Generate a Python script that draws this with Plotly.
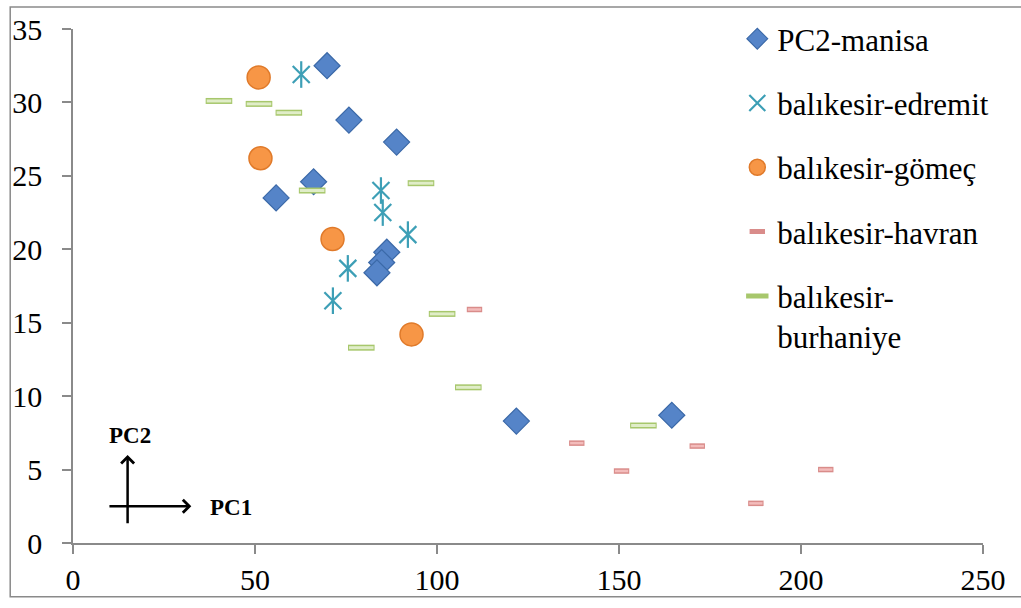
import plotly.graph_objects as go

# ---- data ----
manisa_x = [69.8, 75.8, 88.9, 66.1, 55.8, 86.2, 84.8, 83.5, 121.8, 164.5]
manisa_y = [32.5, 28.8, 27.3, 24.6, 23.5, 19.8, 19.1, 18.4, 8.3, 8.7]

edremit_x = [62.7, 84.6, 85.1, 92.0, 75.5, 71.4]
edremit_y = [31.9, 24.0, 22.5, 21.0, 18.7, 16.5]

gomec_x = [51.0, 51.5, 71.3, 93.0]
gomec_y = [31.7, 26.2, 20.7, 14.2]

havran_x = [110.3, 138.4, 150.7, 171.5, 187.6, 206.8]
havran_y = [15.9, 6.8, 4.9, 6.6, 2.7, 5.0]

burhaniye_x = [40.1, 51.1, 59.3, 65.7, 95.6, 101.4, 79.2, 108.6, 156.7]
burhaniye_y = [30.1, 29.9, 29.3, 24.0, 24.5, 15.6, 13.3, 10.6, 8.0]

x_ticks = [0, 50, 100, 150, 200, 250]
y_ticks = [0, 5, 10, 15, 20, 25, 30, 35]

FONT = "Liberation Serif"

fig = go.Figure()

fig.add_trace(go.Scatter(
    x=manisa_x, y=manisa_y, mode="markers", name="PC2-manisa", legendgroup="a",
    marker=dict(symbol="diamond", size=20, color="#5584c8",
                line=dict(color="#3b69a8", width=1.2))))

fig.add_trace(go.Scatter(
    x=edremit_x, y=edremit_y, mode="markers", name="balıkesir-edremit", legendgroup="b",
    marker=dict(symbol="x-thin-open", size=17, color="#3d9fb6",
                line=dict(color="#3d9fb6", width=2.2))))
fig.add_trace(go.Scatter(
    x=edremit_x, y=edremit_y, mode="markers", showlegend=False, legendgroup="b",
    marker=dict(symbol="line-ns-open", size=19, color="#3d9fb6",
                line=dict(color="#3d9fb6", width=2.2))))

fig.add_trace(go.Scatter(
    x=gomec_x, y=gomec_y, mode="markers", name="balıkesir-gömeç", legendgroup="c",
    marker=dict(symbol="circle", size=23, color="#f79646",
                line=dict(color="#e07a2a", width=1.5))))

fig.add_trace(go.Scatter(
    x=havran_x, y=havran_y, mode="markers", name="balıkesir-havran", legendgroup="d",
    marker=dict(symbol="line-ew-open", size=11, color="#d98c8a",
                line=dict(color="#d98c8a", width=5.5))))
fig.add_trace(go.Scatter(
    x=havran_x, y=havran_y, mode="markers", showlegend=False, legendgroup="d",
    marker=dict(symbol="line-ew-open", size=9.5, color="#f3bcbb",
                line=dict(color="#f3bcbb", width=2.5))))

fig.add_trace(go.Scatter(
    x=burhaniye_x, y=burhaniye_y, mode="markers", name="balıkesir-<br>burhaniye", legendgroup="e",
    marker=dict(symbol="line-ew-open", size=19, color="#a7c76c",
                line=dict(color="#a7c76c", width=6))))
fig.add_trace(go.Scatter(
    x=burhaniye_x, y=burhaniye_y, mode="markers", showlegend=False, legendgroup="e",
    marker=dict(symbol="line-ew-open", size=17.5, color="#e0edc8",
                line=dict(color="#e0edc8", width=3))))

axis_common = dict(showline=True, linecolor="#8a8a8a", linewidth=1.5,
                   ticks="outside", ticklen=9, tickcolor="#8a8a8a", tickwidth=1.5,
                   showgrid=False, zeroline=False,
                   tickfont=dict(family=FONT, size=30, color="#000"))

fig.update_xaxes(range=[0, 250], tickvals=x_ticks, ticktext=[str(v) for v in x_ticks],
                 **axis_common)
fig.update_yaxes(range=[0, 35], tickvals=y_ticks, ticktext=[str(v) for v in y_ticks],
                 ticklabelstandoff=14, **axis_common)

# PC1 / PC2 direction arrows
arrow = dict(showarrow=True, arrowhead=4, arrowsize=1, arrowwidth=2.5, arrowcolor="#000",
             xref="x", yref="y", axref="x", ayref="y", text="")
fig.add_annotation(x=15.0, y=6.0, ax=15.0, ay=1.25, **arrow)
fig.add_annotation(x=32.5, y=2.5, ax=9.6, ay=2.5, **arrow)
fig.add_annotation(x=15.7, y=7.35, text="<b>PC2</b>", showarrow=False, xref="x", yref="y",
                   font=dict(family=FONT, size=23, color="#000"))
fig.add_annotation(x=43.5, y=2.45, text="<b>PC1</b>", showarrow=False, xref="x", yref="y",
                   font=dict(family=FONT, size=23, color="#000"))

# outer frame
fig.add_shape(type="rect", xref="paper", yref="paper",
              x0=-0.069, x1=1.05, y0=-0.1045, y1=1.043,
              line=dict(color="#8a8a8a", width=1.5), fillcolor="rgba(0,0,0,0)", layer="below")

fig.update_layout(
    width=1021, height=608,
    margin=dict(l=70, r=38, t=23, b=62),
    paper_bgcolor="white", plot_bgcolor="white",
    showlegend=True,
    legend=dict(x=0.73, y=1.033, xanchor="left", yanchor="top",
                font=dict(family=FONT, size=31, color="#000"),
                bgcolor="rgba(0,0,0,0)", itemwidth=30, valign="top",
                tracegroupgap=21, traceorder="grouped", maxheight=600),
)

fig.write_html("out.html")
